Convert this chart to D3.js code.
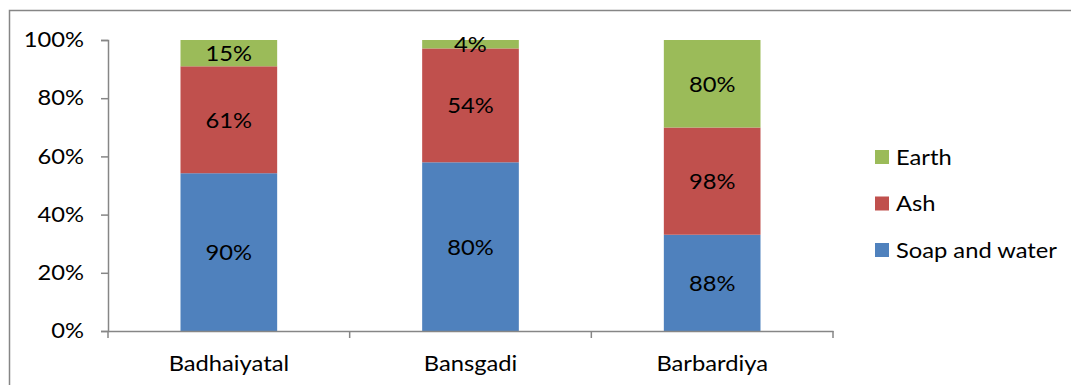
<!DOCTYPE html>
<html><head><meta charset="utf-8">
<script src="https://cdn.jsdelivr.net/npm/d3@7"></script>
<style>body{margin:0;background:#fff}svg{display:block}text{font-family:Lato,"Open Sans",sans-serif;fill:#000}</style>
</head><body><svg id="c" width="1071" height="385"></svg>
<script>
const categories = ["Badhaiyatal", "Bansgadi", "Barbardiya"];
const seriesNames = ["Soap and water", "Ash", "Earth"];
const soapWater = [90, 80, 88];
const ash = [61, 54, 98];
const earth = [15, 4, 80];
const yTicks = [0, 0.2, 0.4, 0.6, 0.8, 1];
const colors = ["#4F81BD", "#C0504D", "#9BBB59"];

const svg = d3.select("#c");
const FS = 21, SX = 1.13;
function stretch(sel){
  sel.each(function(){
    const t = d3.select(this);
    const xv = +(t.attr("x") || 0);
    t.attr("transform", `translate(${xv},0) scale(${SX},1) translate(${-xv},0)`);
  });
}
svg.append("rect").attr("x",9.5).attr("y",10.5).attr("width",1100).attr("height",400)
  .attr("fill","none").attr("stroke","#868686").attr("stroke-width",1.5);

const m = {l:108, r:833, t:40, b:331};
const x = d3.scaleBand().domain(categories).range([m.l, m.r]).paddingInner(0.6).paddingOuter(0.3);
const y = d3.scaleLinear().domain([0,1]).range([m.b, m.t]);

const rows = categories.map((c,i)=>({cat:c, "Soap and water":soapWater[i], "Ash":ash[i], "Earth":earth[i]}));
const stack = d3.stack().keys(seriesNames).offset(d3.stackOffsetExpand);
const layers = stack(rows);

const g = svg.append("g");
layers.forEach((layer, li) => {
  g.selectAll(null).data(layer).enter().append("rect")
    .attr("x", d => x(d.data.cat)).attr("width", x.bandwidth())
    .attr("y", d => y(d[1])).attr("height", d => y(d[0]) - y(d[1]))
    .attr("fill", colors[li]);
  g.selectAll(null).data(layer).enter().append("text")
    .attr("x", d => x(d.data.cat) + x.bandwidth()/2)
    .attr("y", d => (y(d[0]) + y(d[1]))/2)
    .attr("text-anchor","middle").attr("dominant-baseline","central")
    .style("font-size", FS+"px")
    .text(d => d.data[layer.key] + "%")
    .call(stretch);
});

// y axis
const ya = svg.append("g").attr("transform",`translate(${m.l},0)`)
  .call(d3.axisLeft(y).tickValues(yTicks).tickFormat(d3.format(".0%")).tickSize(7).tickPadding(17));
ya.select(".domain").attr("stroke","#868686").attr("stroke-width",1.5);
ya.selectAll(".tick line").attr("stroke","#868686").attr("stroke-width",1.5);
ya.selectAll("text").style("font-size",FS+"px").attr("fill","#000").style("font-family","Lato,sans-serif").call(stretch);

// x axis
const xa = svg.append("g").attr("transform",`translate(0,${m.b})`)
  .call(d3.axisBottom(x).tickSize(0).tickPadding(25));
xa.select(".domain").attr("stroke","#868686").attr("stroke-width",1.5);
xa.selectAll("text").style("font-size",FS+"px").attr("fill","#000").style("font-family","Lato,sans-serif").call(stretch);
const bounds = d3.range(categories.length+1).map(i => m.l + i*(m.r-m.l)/categories.length);
xa.selectAll(".btick").data(bounds).enter().append("line")
  .attr("x1",d=>d).attr("x2",d=>d).attr("y1",0).attr("y2",7)
  .attr("stroke","#868686").attr("stroke-width",1.5);

// legend
const legendOrder = ["Earth","Ash","Soap and water"];
const ly = d3.scalePoint().domain(legendOrder).range([157, 250]);
const lg = svg.append("g");
legendOrder.forEach(k => {
  const ci = seriesNames.indexOf(k);
  lg.append("rect").attr("x",875).attr("y",ly(k)-7).attr("width",14).attr("height",14).attr("fill",colors[ci]);
  lg.append("text").attr("x",896).attr("y",ly(k)).attr("dominant-baseline","central")
    .style("font-size",FS+"px").text(k).call(stretch);
});
</script></body></html>
